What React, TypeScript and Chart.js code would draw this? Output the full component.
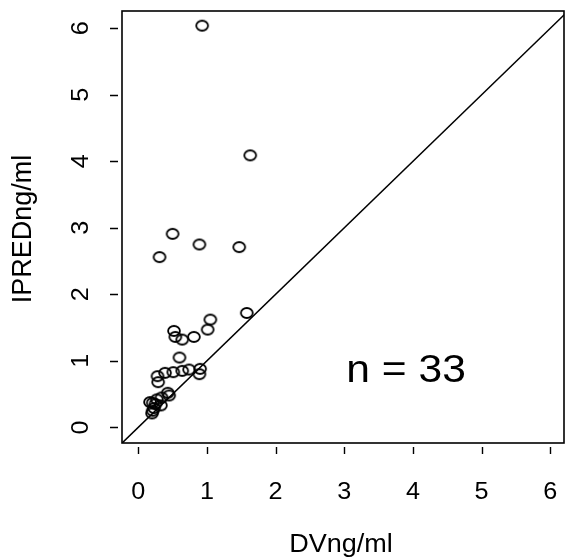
import React, { useEffect, useRef } from "react";
import { Chart, registerables } from "chart.js";

Chart.register(...registerables);

// Observed concentrations (DV) and individual predictions (IPRED), ng/ml
const DV = [
  0.93, 1.63, 0.5, 0.89, 0.31, 1.47, 1.58, 1.05, 1.01, 0.52, 0.54,
  0.64, 0.81, 0.6, 0.9, 0.89, 0.74, 0.64, 0.51, 0.39, 0.28, 0.29,
  0.43, 0.45, 0.34, 0.27, 0.17, 0.21, 0.33, 0.25, 0.21, 0.2, 0.23,
];
const IPRED = [
  6.04, 4.09, 2.91, 2.75, 2.56, 2.71, 1.72, 1.62, 1.47, 1.45, 1.36,
  1.32, 1.36, 1.05, 0.88, 0.8, 0.87, 0.85, 0.83, 0.82, 0.77, 0.68,
  0.52, 0.48, 0.45, 0.42, 0.38, 0.37, 0.33, 0.35, 0.25, 0.21, 0.29,
];
const X_TICKS = [0, 1, 2, 3, 4, 5, 6];
const Y_TICKS = [0, 1, 2, 3, 4, 5, 6];
const X_TITLE = "DVng/ml";
const Y_TITLE = "IPREDng/ml";
const N_LABEL = "n = " + DV.length;
const N_LABEL_POS = [3.9, 0.84];
const IDENTITY = [-1, 8];

const FONT = '"Liberation Sans", Arial, Helvetica, sans-serif';

function makeRing(): HTMLCanvasElement {
  const c = document.createElement("canvas");
  c.width = 16;
  c.height = 14;
  const g = c.getContext("2d")!;
  g.strokeStyle = "#000";
  g.lineWidth = 1.8;
  g.beginPath();
  g.ellipse(8, 7, 5.9, 5.0, 0, 0, Math.PI * 2);
  g.stroke();
  return c;
}

function drawText(
  ctx: CanvasRenderingContext2D,
  text: string,
  x: number,
  y: number,
  size: number,
  rot: number,
  sx: number
) {
  ctx.save();
  ctx.translate(x, y);
  ctx.rotate(rot);
  ctx.scale(sx, 1);
  ctx.font = `${size}px ${FONT}`;
  ctx.textAlign = "center";
  ctx.textBaseline = "middle";
  ctx.fillStyle = "#000";
  ctx.fillText(text, 0, 0);
  ctx.restore();
}

const framePlugin = {
  id: "rframe",
  afterDraw(chart: any) {
    const { ctx, chartArea: a, scales } = chart;
    const xs = scales.x;
    const ys = scales.y;
    ctx.save();
    ctx.strokeStyle = "#000";
    ctx.lineWidth = 1.6;
    ctx.strokeRect(a.left, a.top, a.right - a.left, a.bottom - a.top);
    ctx.lineWidth = 1.4;
    ctx.beginPath();
    for (const t of X_TICKS) {
      const px = Math.round(xs.getPixelForValue(t)) + 0.5;
      ctx.moveTo(px, a.bottom + 4);
      ctx.lineTo(px, a.bottom + 11);
    }
    for (const t of Y_TICKS) {
      const py = Math.round(ys.getPixelForValue(t)) + 0.5;
      ctx.moveTo(a.left - 4, py);
      ctx.lineTo(a.left - 12, py);
    }
    ctx.stroke();
    for (const t of X_TICKS) {
      drawText(ctx, String(t), xs.getPixelForValue(t), a.bottom + 49, 24, 0, 1.05);
    }
    for (const t of Y_TICKS) {
      drawText(ctx, String(t), a.left - 41, ys.getPixelForValue(t), 24, -Math.PI / 2, 1.05);
    }
    drawText(ctx, X_TITLE, 341, a.bottom + 102, 26, 0, 1.04);
    drawText(ctx, Y_TITLE, a.left - 98, (a.top + a.bottom) / 2 + 2, 27, -Math.PI / 2, 1);
    drawText(
      ctx,
      N_LABEL,
      xs.getPixelForValue(N_LABEL_POS[0]),
      ys.getPixelForValue(N_LABEL_POS[1]),
      38,
      0,
      1.12
    );
    ctx.restore();
  },
};

export default function App() {
  const ref = useRef<HTMLCanvasElement | null>(null);
  useEffect(() => {
    if (!ref.current) return;
    const ring = makeRing();
    const chart = new Chart(ref.current, {
      type: "scatter",
      data: {
        datasets: [
          {
            type: "line",
            data: IDENTITY.map((v) => ({ x: v, y: v })),
            borderColor: "#000",
            borderWidth: 1.5,
            pointRadius: 0,
            fill: false,
          } as any,
          {
            data: DV.map((d, i) => ({ x: d, y: IPRED[i] })),
            pointStyle: ring as any,
            pointRadius: 6,
            borderColor: "#000",
            backgroundColor: "rgba(0,0,0,0)",
          },
        ],
      },
      options: {
        animation: false,
        responsive: false,
        maintainAspectRatio: false,
        layout: { autoPadding: false, padding: { left: 122, top: 11, right: 1, bottom: 117 } },
        plugins: {
          legend: { display: false },
          tooltip: { enabled: false },
        },
        events: [],
        scales: {
          x: { type: "linear", min: -0.237, max: 6.2, display: false },
          y: { type: "linear", min: -0.235, max: 6.26, display: false },
        },
      },
      plugins: [framePlugin],
    });
    return () => chart.destroy();
  }, []);
  return (
    <div style={{ position: "absolute", left: 0, top: 0, width: 565, height: 560, background: "#fff", overflow: "hidden" }}>
      <canvas ref={ref} width={565} height={560} style={{ display: "block" }} />
    </div>
  );
}
